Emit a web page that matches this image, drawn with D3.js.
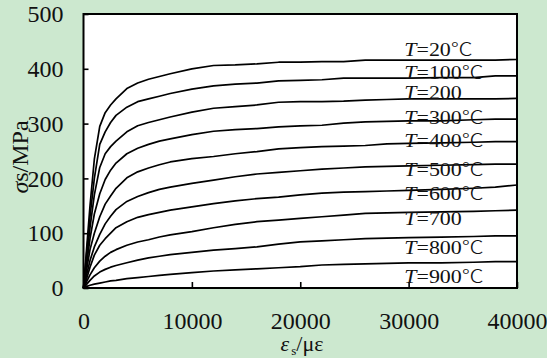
<!DOCTYPE html>
<html>
<head>
<meta charset="utf-8">
<script src="https://cdn.jsdelivr.net/npm/d3@7"></script>
<style>
  html, body { margin: 0; padding: 0; background: #cce8cf; }
  svg { display: block; }
  svg text { font-family: "Times New Roman", "Liberation Serif", "DejaVu Serif", "Noto Serif", serif; }
  svg .cjk { font-family: "Noto Sans CJK SC", "Noto Sans CJK JP", sans-serif; }
</style>
</head>
<body>
<svg id="chart" width="547" height="358"></svg>
<script>
// strain points (με) shared by every curve
const strain = [0, 300, 600, 1000, 1500, 2000, 2500, 3000, 4000, 5000, 6000, 7000, 8000,
  10000, 12000, 14000, 16000, 18000, 20000, 22000, 24000, 26000, 28000, 30000,
  33000, 36000, 38000, 40000];

// stress (MPa) per temperature
const stress20 = [0, 75, 150, 235, 295, 320, 334, 345, 364, 374, 381, 386, 391,
  400, 406, 407, 409, 412, 412, 413, 413, 416, 416, 416, 416, 416, 416, 417];
const stress100 = [0, 65, 130, 200, 262, 285, 302, 315, 330, 340, 345, 350, 355,
  363, 369, 372, 374, 378, 379, 380, 383, 383, 383, 383, 384, 384, 387, 387];
const stress200 = [0, 55, 110, 170, 220, 245, 258, 268, 285, 296, 302, 307, 312,
  321, 328, 331, 334, 339, 340, 340, 341, 343, 344, 345, 345, 345, 345, 346];
const stress300 = [0, 45, 90, 135, 172, 198, 215, 228, 245, 255, 262, 268, 272,
  280, 286, 289, 291, 294, 296, 297, 301, 303, 304, 305, 305, 307, 308, 308];
const stress400 = [0, 35, 70, 100, 130, 153, 168, 182, 201, 212, 219, 225, 230,
  236, 240, 245, 249, 254, 256, 258, 259, 260, 263, 264, 265, 266, 267, 267];
const stress500 = [0, 25, 50, 75, 98, 117, 131, 143, 158, 167, 174, 180, 184,
  191, 197, 203, 208, 211, 214, 217, 219, 221, 222, 223, 224, 225, 226, 226];
const stress600 = [0, 18, 38, 60, 78, 90, 100, 110, 121, 129, 134, 138, 142,
  148, 154, 159, 163, 166, 170, 173, 175, 176, 177, 178, 180, 182, 184, 188];
const stress700 = [0, 12, 24, 37, 49, 58, 65, 70, 78, 84, 88, 93, 97,
  103, 110, 116, 121, 124, 127, 130, 133, 136, 137, 138, 139, 140, 141, 142];
const stress800 = [0, 7, 14, 22, 29, 34, 38, 41, 46, 51, 55, 58, 61,
  65, 69, 72, 75, 80, 84, 86, 88, 90, 91, 92, 93, 94, 95, 95];
const stress900 = [0, 3, 5, 7, 9, 11, 13, 14, 17, 19, 21, 23, 25,
  28, 31, 33, 35, 37, 39, 42, 43, 44, 45, 46, 46, 47, 48, 48];

// curve labels: temperature number and whether the source shows the ℃ sign
const seriesTemps = ['20', '100', '200', '300', '400', '500', '600', '700', '800', '900'];
const seriesHasUnit = [true, true, false, true, true, true, true, false, true, true];
// stress level at which each curve label sits
const labelStress = [424, 381, 345, 300, 257, 204, 161, 115, 62, 10];
const labelStrain = 29600;

const xTicks = [0, 10000, 20000, 30000, 40000];
const yTicks = [0, 100, 200, 300, 400, 500];

const allStress = [stress20, stress100, stress200, stress300, stress400,
  stress500, stress600, stress700, stress800, stress900];

const svg = d3.select('#chart');
const plot = { left: 83.5, right: 517, top: 14, bottom: 288 };

const x = d3.scaleLinear().domain([0, 40000]).range([plot.left, plot.right]);
const y = d3.scaleLinear().domain([0, 500]).range([plot.bottom, plot.top]);

// plot backdrop
svg.append('rect')
  .attr('x', plot.left)
  .attr('y', plot.top)
  .attr('width', plot.right - plot.left)
  .attr('height', plot.bottom - plot.top)
  .attr('fill', 'white');

// curves
const line = d3.line()
  .x(d => x(d[0]))
  .y(d => y(d[1]));

svg.append('g')
  .selectAll('path')
  .data(allStress)
  .enter()
  .append('path')
  .attr('d', s => line(strain.map((e, i) => [e, s[i]])))
  .attr('fill', 'none')
  .attr('stroke', 'black')
  .attr('stroke-width', 1.7)
  .attr('stroke-linejoin', 'round');

// axes, ticks pointing inwards
const yAxis = d3.axisLeft(y)
  .tickValues(yTicks)
  .tickSizeInner(-5)
  .tickSizeOuter(0)
  .tickPadding(20)
  .tickFormat(d3.format('d'));
const yAxisEl = svg.append('g')
  .attr('transform', `translate(${plot.left},0)`)
  .call(yAxis);

const xAxis = d3.axisBottom(x)
  .tickValues(xTicks)
  .tickSizeInner(-6)
  .tickSizeOuter(0)
  .tickPadding(24)
  .tickFormat(d3.format('d'));
const xAxisEl = svg.append('g')
  .attr('transform', `translate(0,${plot.bottom})`)
  .call(xAxis);

for (const el of [xAxisEl, yAxisEl]) {
  el.select('.domain').remove();
  el.attr('font-family', null).attr('font-size', 24);
  el.selectAll('line').attr('stroke-width', 1.6);
  el.selectAll('text').attr('fill', '#111');
}

// frame
svg.append('rect')
  .attr('x', plot.left)
  .attr('y', plot.top)
  .attr('width', plot.right - plot.left)
  .attr('height', plot.bottom - plot.top)
  .attr('fill', 'none')
  .attr('stroke', 'black')
  .attr('stroke-width', 2);

// curve labels (glyphs look horizontally stretched in the source)
const labels = svg.append('g')
  .selectAll('g')
  .data(seriesTemps)
  .enter()
  .append('g')
  .attr('transform', (d, i) => `translate(${x(labelStrain)},${y(labelStress[i])}) scale(1.22,1)`);
const labelText = labels.append('text')
  .attr('font-size', 18)
  .attr('fill', '#111');
labelText.append('tspan').attr('font-style', 'italic').text('T');
labelText.append('tspan').text(d => '=' + d);
labelText.filter((d, i) => seriesHasUnit[i])
  .append('tspan')
  .attr('class', 'cjk')
  .attr('font-weight', 300)
  .text('℃');

// y title
const yTitle = svg.append('text')
  .attr('transform', 'translate(28,157) rotate(-90)')
  .attr('text-anchor', 'middle')
  .attr('font-size', 24)
  .attr('fill', '#111');
yTitle.append('tspan').attr('font-style', 'italic').text('σ');
yTitle.append('tspan').text('s/MPa');

// x title
const xTitle = svg.append('text')
  .attr('x', 302)
  .attr('y', 351)
  .attr('text-anchor', 'middle')
  .attr('font-size', 22)
  .attr('fill', '#111');
xTitle.append('tspan').attr('font-style', 'italic').text('ε');
xTitle.append('tspan').attr('font-size', 13).attr('dx', 2).attr('dy', 4).text('s');
xTitle.append('tspan').attr('dy', -4).text('/με');
</script>
</body>
</html>
